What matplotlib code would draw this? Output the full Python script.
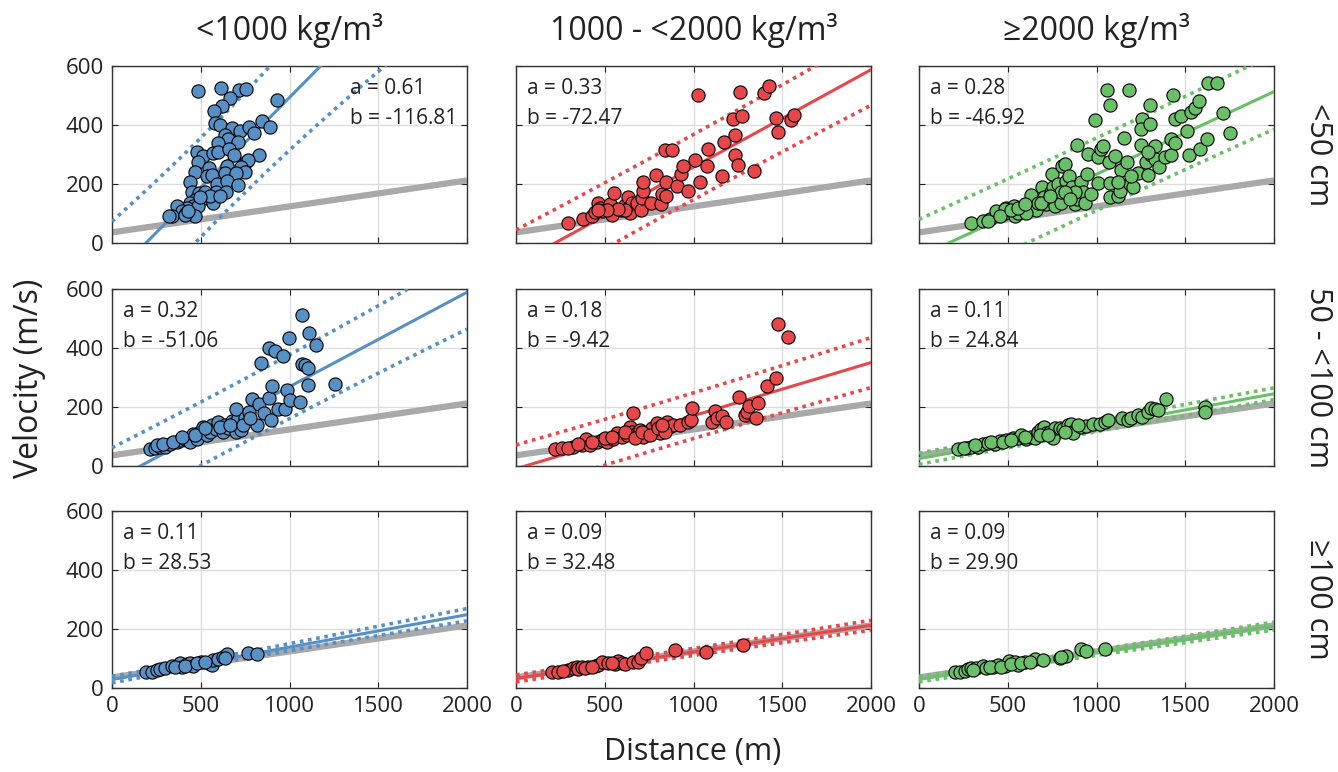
"""Velocity vs. distance by deposit density (columns) and thickness (rows)."""
import matplotlib
matplotlib.use("Agg")
import matplotlib.pyplot as plt
import numpy as np

plt.rcParams["font.family"] = ["Open Sans", "DejaVu Sans"]

density_labels = ["<1000 kg/m³", "1000 - <2000 kg/m³", "≥2000 kg/m³"]
thickness_labels = ["<50 cm", "50 - <100 cm", "≥100 cm"]
colors = ["#5790c4", "#e8474a", "#6abf69"]

# fitted v = a*d + b for each (thickness row, density column)
fit_a = [[0.61, 0.33, 0.28], [0.32, 0.18, 0.11], [0.11, 0.09, 0.09]]
fit_b = [[-116.81, -72.47, -46.92], [-51.06, -9.42, 24.84], [28.53, 32.48, 29.90]]

# reference relation shown in grey on every panel
ref_a = 0.088
ref_b = 36

# --- thickness <50 cm ---
dist_thin_light = [486, 614, 717, 753, 665, 931, 618, 575, 578, 608, 674, 721, 774, 845, 890, 800,
                   637, 655, 712, 599, 477, 511, 571, 599, 661, 687, 830, 755, 768, 486, 548, 646,
                   725, 749, 468, 533, 561, 637, 699, 439, 590, 646, 708, 449, 492, 524, 586, 642,
                   533, 571, 468, 439, 458, 424, 368, 393, 417, 486, 336, 323, 468, 411, 430, 552,
                   608, 496]
vel_thin_light = [515, 526, 517, 522, 492, 484, 464, 447, 408, 399, 390, 381, 392, 412, 393, 374,
                  365, 351, 344, 340, 310, 294, 306, 308, 317, 299, 300, 276, 283, 274, 253, 262,
                  257, 242, 240, 226, 230, 237, 237, 206, 200, 211, 197, 172, 169, 174, 174, 174,
                  151, 137, 145, 137, 126, 117, 124, 108, 103, 126, 92, 90, 90, 94, 108, 160,
                  160, 155]

dist_thin_mid = [295, 379, 426, 464, 473, 492, 530, 539, 554, 592, 614, 629, 642, 655, 680, 704,
                 708, 717, 717, 761, 787, 817, 824, 843, 843, 839, 881, 909, 928, 943, 971, 1008,
                 1024, 1037, 1074, 1084, 1159, 1172, 1224, 1234, 1234, 1249, 1262, 1271, 1343, 1399,
                 1425, 1465, 1478, 1549, 1565, 614, 577, 511, 445, 464]
vel_thin_mid = [69, 83, 92, 137, 120, 109, 132, 94, 169, 112, 128, 155, 103, 137, 137, 112,
                151, 177, 208, 137, 232, 132, 166, 160, 206, 316, 316, 194, 233, 260, 177, 281,
                503, 206, 260, 317, 226, 342, 419, 297, 367, 265, 512, 431, 245, 507,
                533, 424, 376, 416, 433, 112, 115, 112, 106, 112]

dist_thin_dense = [291, 361, 398, 436, 486, 492, 535, 539, 577, 605, 633, 633, 661, 693, 704, 717,
                   745, 755, 755, 749, 765, 783, 802, 806, 821, 830, 843, 858, 862, 877, 892, 892,
                   914, 924, 933, 948, 952, 971, 990, 1008, 1008, 1024, 1037, 1061, 1074, 1074, 1069,
                   1074, 1106, 1121, 1131, 1140, 1155, 1174, 1181, 1187, 1206, 1234, 1249, 1256, 1249,
                   1281, 1290, 1300, 1300, 1309, 1328, 1331, 1350, 1384, 1418, 1418, 1431, 1441, 1444,
                   1478, 1512, 1519, 1531, 1553, 1578, 1581, 1624, 1628, 1681, 1713, 1754, 483, 558,
                   605, 670, 802, 877, 1121, 1196, 1290, 389, 455, 520, 558, 595, 689, 736, 821, 849]
vel_thin_dense = [69, 73, 83, 107, 101, 117, 124, 92, 109, 115, 163, 120, 112, 189, 155, 132,
                  174, 147, 189, 234, 126, 200, 137, 262, 268, 211, 228, 160, 189, 132, 149, 331,
                  206, 172, 137, 234, 302, 166, 416, 203, 291, 319, 328, 520, 467, 203, 274,
                  155, 294, 160, 177, 249, 356, 276, 518, 200, 189, 237, 331, 422, 387,
                  276, 231, 467, 405, 297, 328, 285, 257, 293, 299, 353, 501, 422, 340,
                  431, 378, 299, 444, 458, 481, 317, 351, 541, 544, 442, 374, 115, 103,
                  103, 137, 172, 172, 206, 228, 308, 75, 92, 112, 120, 132, 137, 160, 172, 149]

# --- thickness 50 - <100 cm ---
dist_med_light = [214, 242, 270, 299, 327, 364, 383, 411, 439, 455, 477, 496, 511, 533, 552, 561,
                  586, 599, 624, 637, 655, 674, 699, 693, 712, 725, 699, 749, 774, 787, 815, 830,
                  838, 856, 886, 886, 894, 900, 918, 937, 962, 975, 988, 999, 1003, 1059, 1069,
                  1087, 1106, 1112, 1106, 1149, 1069, 1256, 252, 289, 345, 393, 468, 524, 608,
                  665, 740, 777]
vel_med_light = [58, 62, 66, 66, 73, 82, 88, 92, 82, 108, 92, 116, 133, 105, 116, 139,
                 125, 150, 116, 139, 128, 153, 116, 145, 162, 122, 193, 162, 184, 227, 139, 209,
                 348, 179, 229, 401, 156, 272, 390, 193, 374, 193, 258, 433, 224, 216, 345,
                 342, 333, 450, 275, 410, 512, 278, 71, 73, 82, 99, 105, 128, 133,
                 139, 139, 162]

dist_med_mid = [220, 257, 323, 370, 393, 417, 455, 483, 511, 548, 567, 595, 624, 642, 652, 661,
                680, 699, 717, 736, 765, 793, 811, 849, 862, 886, 924, 971, 986, 993, 1103, 1121,
                1131, 1159, 1181, 1256, 1290, 1300, 1313, 1350, 1365, 1412, 1463, 1474, 1531, 295,
                351, 426, 501, 539, 614, 670, 708, 755, 802, 839, 821]
vel_med_mid = [58, 60, 66, 71, 92, 71, 80, 88, 82, 92, 111, 99, 105, 133, 116, 179,
               111, 122, 99, 116, 128, 145, 111, 150, 133, 139, 139, 150, 156, 198, 150, 186,
               164, 171, 150, 235, 173, 184, 204, 164, 212, 272, 297, 480, 438, 62,
               73, 82, 94, 99, 116, 94, 116, 105, 128, 116, 139]

dist_med_dense = [220, 267, 295, 332, 361, 389, 426, 455, 492, 530, 558, 577, 605, 633, 652, 670,
                  689, 704, 717, 736, 755, 765, 793, 811, 839, 855, 862, 868, 914, 943, 980, 1018,
                  1046, 1065, 1144, 1177, 1196, 1234, 1256, 1290, 1309, 1331, 1347, 1393, 1613, 1613,
                  254, 314, 407, 473, 520, 595, 680, 727, 821, 896]
vel_med_dense = [58, 60, 66, 66, 73, 77, 73, 85, 88, 96, 94, 105, 92, 99, 94, 116,
                 125, 133, 111, 116, 96, 128, 130, 125, 139, 141, 116, 111, 133, 137, 141, 141,
                 150, 156, 164, 156, 164, 173, 167, 184, 198, 193, 190, 227, 201, 184,
                 60, 71, 82, 82, 88, 99, 105, 105, 116, 139]

# --- thickness >=100 cm ---
dist_thick_light = [192, 224, 252, 270, 299, 336, 383, 393, 421, 439, 458, 500, 543, 561, 571, 599,
                    627, 646, 637, 768, 815, 355, 411, 477, 524]
vel_thick_light = [53, 55, 61, 63, 67, 76, 84, 72, 81, 84, 76, 89, 86, 78, 95, 97,
                   106, 115, 101, 120, 115, 72, 75, 84, 89]

dist_thick_mid = [201, 238, 291, 323, 342, 348, 370, 407, 445, 464, 483, 517, 558, 577, 595, 614,
                  661, 689, 704, 731, 896, 1069, 1277, 266, 389, 430, 539]
vel_thick_mid = [53, 55, 61, 67, 72, 63, 70, 72, 75, 78, 89, 84, 81, 93, 86, 81,
                 89, 89, 101, 120, 129, 123, 146, 59, 69, 72, 86]

dist_thick_dense = [201, 229, 257, 276, 291, 323, 361, 379, 417, 445, 483, 505, 539, 558, 595, 652,
                    699, 793, 830, 911, 943, 1046, 304, 398, 464, 520, 577, 624, 802]
vel_thick_dense = [55, 55, 59, 63, 67, 67, 76, 67, 72, 78, 76, 93, 87, 78, 87, 98,
                   95, 101, 108, 131, 127, 131, 61, 70, 72, 81, 84, 89, 106]

dist_table = [[dist_thin_light, dist_thin_mid, dist_thin_dense],
              [dist_med_light, dist_med_mid, dist_med_dense],
              [dist_thick_light, dist_thick_mid, dist_thick_dense]]
vel_table = [[vel_thin_light, vel_thin_mid, vel_thin_dense],
             [vel_med_light, vel_med_mid, vel_med_dense],
             [vel_thick_light, vel_thick_mid, vel_thick_dense]]


def prediction_band(x, y, xs, k=1.7):
    """Half-width of the prediction interval of a straight-line fit, evaluated at xs."""
    x = np.asarray(x, float)
    y = np.asarray(y, float)
    n = len(x)
    p = np.polyfit(x, y, 1)
    s = np.sqrt(np.sum((y - np.polyval(p, x)) ** 2) / (n - 2))
    sxx = np.sum((x - x.mean()) ** 2)
    return k * s * np.sqrt(1 + 1 / n + (xs - x.mean()) ** 2 / sxx)


fig = plt.figure(figsize=(13.38, 7.72), dpi=100)
W, H = 1338, 772
col_left = [112, 516, 919]
row_top = [66, 289, 511]
ax_w, ax_h = 355, 177

xs = np.linspace(0, 2000, 400)
for r in range(3):
    for c in range(3):
        ax = fig.add_axes([col_left[c] / W, 1 - (row_top[r] + ax_h) / H, ax_w / W, ax_h / H])
        col = colors[c]
        a, b = fit_a[r][c], fit_b[r][c]
        d, v = dist_table[r][c], vel_table[r][c]

        ax.plot(xs, ref_a * xs + ref_b, color="#a9a9a9", lw=4.5, solid_capstyle="butt", zorder=2)
        half = prediction_band(d, v, xs)
        line = a * xs + b
        for sign in (1, -1):
            ax.plot(xs, line + sign * half, color=col, lw=2.6, ls=(0, (1, 1.3)), zorder=3)
        ax.plot(xs, line, color=col, lw=2.2, zorder=3)
        ax.scatter(d, v, s=90, facecolor=col, edgecolor="black", linewidth=0.8, zorder=4)

        ax.set_xlim(0, 2000)
        ax.set_ylim(0, 600)
        ax.set_xticks([0, 500, 1000, 1500, 2000])
        ax.set_yticks([0, 200, 400, 600])
        ax.grid(True, color="#dddddd", lw=1)
        ax.set_axisbelow(True)
        ax.tick_params(direction="in", length=4, labelsize=16, top=True, right=True, pad=6,
                       colors="#222222")
        for sp in ax.spines.values():
            sp.set_linewidth(1)
            sp.set_color("#333333")
        if r < 2:
            ax.tick_params(labelbottom=False)
        if c > 0:
            ax.tick_params(labelleft=False)

        tx = 0.67 if (r == 0 and c == 0) else 0.03
        ax.text(tx, 0.875, f"a = {a:.2f}", transform=ax.transAxes, ha="left", va="center",
                fontsize=15, color="#222222")
        ax.text(tx, 0.705, f"b = {b:.2f}", transform=ax.transAxes, ha="left", va="center",
                fontsize=15, color="#222222")

        if r == 0:
            fig.text((col_left[c] + ax_w / 2) / W, 1 - 30 / H, density_labels[c],
                     ha="center", va="center", fontsize=23, color="#222222")
        if c == 2:
            ax.text(1.124, 0.5, thickness_labels[r], transform=ax.transAxes, rotation=270,
                    ha="center", va="center", fontsize=22, color="#222222")

fig.text(30 / W, 1 - 378 / H, "Velocity (m/s)", rotation=90, ha="center", va="center",
         fontsize=23, color="#222222")
fig.text(693 / W, 1 - 752 / H, "Distance (m)", ha="center", va="center", fontsize=22,
         color="#222222")

fig.savefig("out.png", dpi=100)
